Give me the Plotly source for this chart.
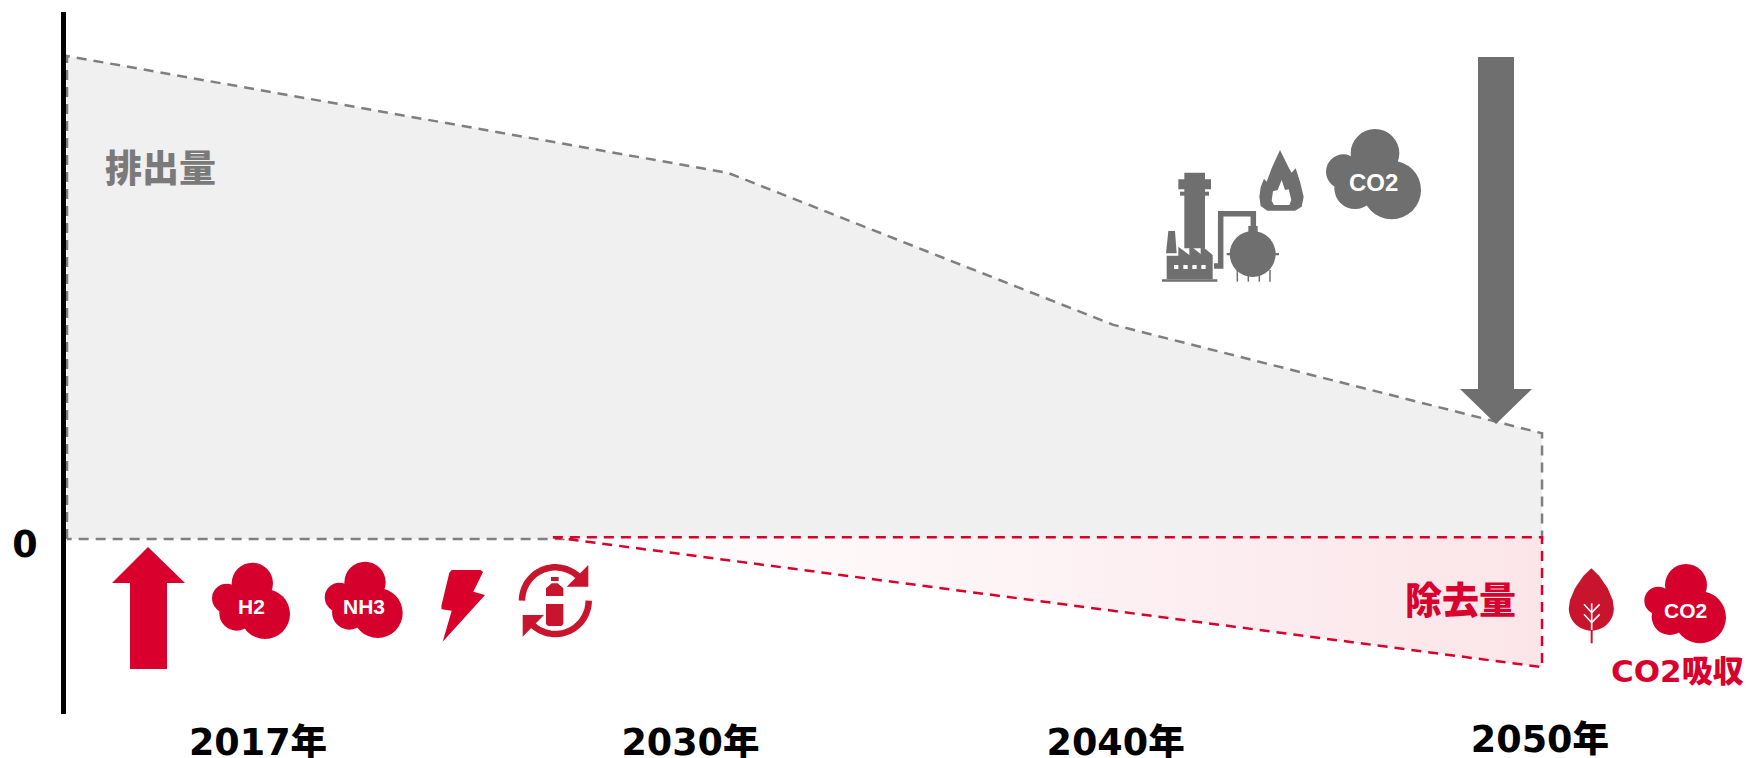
import numpy as np
import plotly.graph_objects as go

# Timeline positions: 0..3 are the four labelled milestones
milestones = [0, 1.012, 2.007]
milestone_labels = ["2017年", "2030年", "2040年"]
final_milestone = [3]
final_label = ["2050年"]

emission_x = [-0.447, 1.10, 2.0, 3.005]
emission_y = [100.0, 75.8, 44.4, 21.9]
removal_x = [0.69, 3.005]
removal_y = [-26.5]
removal_top = [0.4]

GREY = "#6F6F6F"
RED = "#D9002C"
DARK_RED = "#C8142D"
LATIN_CJK = "DejaVu Sans, Noto Sans CJK JP"
ARIAL = "Liberation Sans, Arial"

fig = go.Figure()

# Emission wedge, closed down to the zero line
fig.add_trace(go.Scatter(
    x=[emission_x[0]] + emission_x + [emission_x[-1], emission_x[0]],
    y=[0, *emission_y, 0, 0],
    mode="lines", fill="toself", fillcolor="#F0F0F0",
    line=dict(color="#7F7F7F", width=2.5, dash="10px,7px"),
    hoverinfo="skip", showlegend=False,
))

# Removal wedge, fading in from left to right
fig.add_trace(go.Scatter(
    x=[removal_x[0], removal_x[1], removal_x[1], removal_x[0]],
    y=[removal_top[0], removal_top[0], removal_y[0], removal_top[0]],
    mode="lines", fill="toself",
    fillgradient=dict(type="horizontal",
                      colorscale=[[0, "#FFFFFF"], [1, "#FBE5E9"]]),
    line=dict(color=RED, width=2.5, dash="10px,7px"),
    hoverinfo="skip", showlegend=False,
))

# Placeholders so the extra axes get created
fig.add_trace(go.Scatter(x=[final_milestone[0]], y=[0], xaxis="x2", mode="none",
                         hoverinfo="skip", showlegend=False))
fig.add_trace(go.Scatter(x=[1000], y=[300], xaxis="x3", yaxis="y3", mode="none",
                         hoverinfo="skip", showlegend=False))

shapes = []


def glyph_poly(points, ox, oy, color, scale=1 / 3):
    """Filled polygon given in third-of-a-pixel glyph units."""
    d = "M " + " L ".join(f"{ox + x * scale:.2f},{oy + y * scale:.2f}" for x, y in points) + " Z"
    shapes.append(dict(type="path", path=d, xref="x3", yref="y3",
                       fillcolor=color, line=dict(width=0), layer="above"))


def glyph_line(points, ox, oy, color, width, scale=1 / 3):
    d = "M " + " L ".join(f"{ox + x * scale:.2f},{oy + y * scale:.2f}" for x, y in points)
    shapes.append(dict(type="path", path=d, xref="x3", yref="y3",
                       line=dict(color=color, width=width), layer="above"))


def glyph_circle(cx, cy, r, ox, oy, color, scale=1 / 3):
    x, y, rr = ox + cx * scale, oy + cy * scale, r * scale
    shapes.append(dict(type="circle", xref="x3", yref="y3",
                       x0=x - rr, x1=x + rr, y0=y - rr, y1=y + rr,
                       fillcolor=color, line=dict(width=0), layer="above"))


def cloud(circles, ox, oy, color):
    for cx, cy, r in circles:
        glyph_circle(cx, cy, r, ox, oy, color)


def ring_arc(cx, cy, r, a0, a1, ox, oy, color, width):
    angles = np.radians(np.linspace(a0, a1, 40))
    glyph_line([(cx + r * np.cos(a), cy + r * np.sin(a)) for a in angles], ox, oy, color, width)


# Large arrows
glyph_poly([(1478, 57), (1514, 57), (1514, 389), (1532, 389), (1496, 424), (1460, 389), (1478, 389)],
           0, 0, GREY, scale=1)
glyph_poly([(148, 547), (185, 583), (167, 583), (167, 669), (130, 669), (130, 583), (112, 583)],
           0, 0, "#DA002D", scale=1)

# CO2 cloud and flame, factory group
cloud([(735, 160, 73), (640, 215, 52), (675, 265, 62), (785, 270, 88)], 1130, 100, GREY)
glyph_poly([(450, 150), (477, 205), (485, 218), (497, 205), (510, 245), (521, 290), (515, 320), (495, 332),
            (412, 332), (392, 318), (388, 290), (392, 262), (402, 236), (410, 245), (425, 205)],
           1130, 100, GREY)
glyph_poly([(455, 240), (465, 270), (476, 268), (484, 300), (478, 315), (432, 315), (425, 302), (429, 274), (443, 270)],
           1130, 100, "#FFFFFF")
glyph_poly([(163, 218), (225, 218), (225, 445), (163, 445)], 1130, 100, GREY)
glyph_poly([(145, 238), (243, 238), (243, 268), (145, 268)], 1130, 100, GREY)
glyph_poly([(150, 275), (237, 275), (237, 287), (150, 287)], 1130, 100, GREY)
glyph_poly([(115, 393), (135, 393), (140, 460), (108, 460)], 1130, 100, GREY)
glyph_poly([(110, 467), (145, 467), (145, 440), (178, 465), (178, 435), (212, 462), (212, 435),
            (248, 465), (248, 538), (110, 538)], 1130, 100, GREY)
glyph_poly([(96, 538), (262, 538), (262, 545), (96, 545)], 1130, 100, GREY)
for wx in (132, 160, 187, 214):
    glyph_poly([(wx, 495), (wx + 13, 495), (wx + 13, 507), (wx, 507)], 1130, 100, "#FFFFFF")
glyph_line([(252, 498), (272, 498), (272, 341), (370, 341), (370, 382)], 1130, 100, GREY, 5.5)
glyph_circle(368, 462, 69, 1130, 100, GREY)
glyph_poly([(355, 378), (383, 378), (383, 398), (355, 398)], 1130, 100, GREY)
glyph_poly([(290, 459), (447, 459), (447, 466), (290, 466)], 1130, 100, GREY)
for lx in (322, 355, 388, 420):
    glyph_line([(lx, 510), (lx, 545)], 1130, 100, GREY, 1.5)

# Hydrogen and ammonia clouds
h2_cloud = [(487, 160, 62), (410, 205, 44), (440, 250, 52), (525, 252, 75)]
cloud(h2_cloud, 90, 530, "#D6002C")
cloud(h2_cloud, 202.7, 529, "#D6002C")

# Lightning bolt
glyph_poly([(95, 150), (182, 150), (189, 156), (160, 215), (195, 225), (68, 365), (95, 272), (65, 268), (64, 258), (88, 158)],
           420, 520, RED)

# Recycling loop with bottle
ring_arc(406, 242, 100, 180, 322, 420, 520, DARK_RED, 6.5)
glyph_poly([(505, 135), (505, 200), (440, 200)], 420, 520, DARK_RED)
ring_arc(406, 242, 100, 0, 142, 420, 520, DARK_RED, 6.5)
glyph_poly([(308, 285), (372, 285), (308, 350)], 420, 520, DARK_RED)
glyph_poly([(393, 171), (416, 171), (416, 183), (393, 183)], 420, 520, DARK_RED)
glyph_poly([(395, 190), (413, 190), (430, 205), (430, 228), (378, 228), (378, 205)], 420, 520, DARK_RED)
glyph_poly([(378, 252), (430, 252), (430, 312), (424, 318), (384, 318), (378, 312)], 420, 520, DARK_RED)

# Leaf with veins
leaf_top = [(634, 445), (610, 468), (585, 505), (570, 540)]
angles = np.radians(np.linspace(180, 0, 36))
leaf_round = [(634 + 67.5 * np.cos(a), 565 + 67 * np.sin(a)) for a in angles]
leaf_right = [(698, 540), (683, 505), (658, 468)]
glyph_poly(leaf_top + leaf_round + leaf_right, 1380, 420, DARK_RED)
glyph_line([(635, 625), (635, 670)], 1380, 420, DARK_RED, 2)
glyph_line([(635, 550), (635, 630)], 1380, 420, "#FFFFFF", 1.6)
glyph_line([(612, 553), (635, 578), (659, 553)], 1380, 420, "#FFFFFF", 1.6)
glyph_line([(612, 583), (635, 608), (659, 583)], 1380, 420, "#FFFFFF", 1.6)

# Absorbed CO2 cloud
cloud([(918, 495, 63), (835, 542, 42), (870, 590, 55), (960, 592, 78)], 1380, 420, "#D6002C")


def label(text, x, y, size, color, family=LATIN_CJK, weight=900):
    return dict(text=text, x=x, y=y, xref="x3", yref="y3", showarrow=False,
                xanchor="center", yanchor="middle",
                font=dict(family=family, size=size, color=color, weight=weight))


annotations = [
    label("排出量", 160, 169, 37, "#7A7A7A"),
    label("除去量", 1460, 601, 37, "#DA002D"),
    label("CO2吸収", 1677, 671, 31, "#DA002D"),
    label("CO2", 1373, 182, 24, "#FFFFFF", ARIAL, 700),
    label("H2", 251, 606, 21, "#FFFFFF", ARIAL, 700),
    label("NH3", 364, 606, 21, "#FFFFFF", ARIAL, 700),
    label("CO2", 1685, 610, 21, "#FFFFFF", ARIAL, 700),
]

x_range = [(66 - 258) / 427.3, (1746 - 258) / 427.3]
tick_font = dict(family=LATIN_CJK, size=36.5, color="#000000", weight=900)

fig.update_layout(
    width=1746, height=758, autosize=False,
    margin=dict(l=66, r=0, t=12, b=44, pad=0, autoexpand=False),
    paper_bgcolor="#FFFFFF", plot_bgcolor="rgba(0,0,0,0)",
    showlegend=False,
    shapes=shapes, annotations=annotations,
    xaxis=dict(range=x_range, tickvals=milestones, ticktext=milestone_labels,
               showgrid=False, zeroline=False, showline=False, ticks="",
               tickfont=tick_font, ticklabelstandoff=3, automargin=False),
    xaxis2=dict(range=x_range, overlaying="x", side="bottom", anchor="y",
                tickvals=final_milestone, ticktext=final_label,
                showgrid=False, zeroline=False, showline=False, ticks="",
                tickfont=tick_font, ticklabelstandoff=0, automargin=False),
    yaxis=dict(range=[-36.2, 109.1], tickvals=[0], ticktext=["0"],
               showgrid=False, zeroline=False, showline=True,
               linecolor="#000000", linewidth=5, ticks="",
               tickfont=tick_font, ticklabelstandoff=16, ticklabelshift=5,
               automargin=False),
    xaxis3=dict(range=[66, 1746], overlaying="x", visible=False, anchor="y3"),
    yaxis3=dict(range=[714, 12], overlaying="y", visible=False, anchor="x3"),
)

fig.write_html("out.html", config={"displayModeBar": False})
